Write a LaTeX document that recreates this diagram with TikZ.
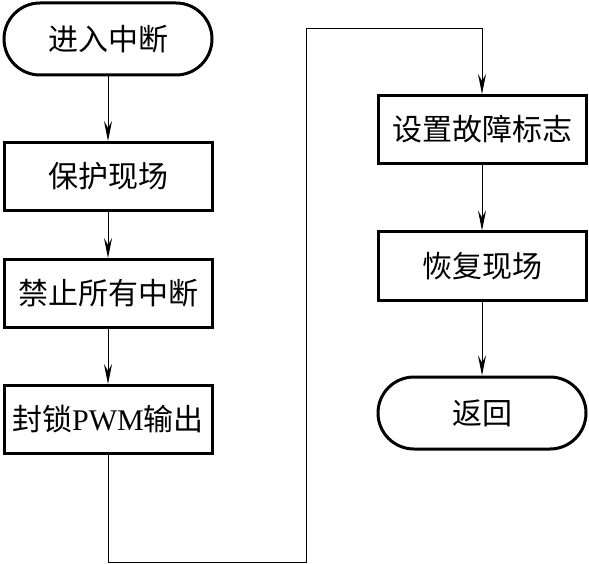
\documentclass[tikz,border=0pt]{standalone}
\usepackage{fontspec}
\setmainfont{Liberation Serif}
\newfontfamily\cjk{Noto Sans CJK SC}
\usetikzlibrary{shapes.misc,arrows.meta}

\begin{document}
\begin{tikzpicture}[x=1pt,y=-1pt,>={Stealth[length=20pt,width=8pt,inset=7pt]},
  box/.style={draw,line width=3pt,minimum width=208pt,minimum height=68pt,
    inner sep=0pt,font=\cjk\fontsize{30}{32}\selectfont},
  term/.style={box,rounded rectangle,minimum height=72pt},
  flow/.style={->,line width=1pt}]
\useasboundingbox (0,0) rectangle (589,564);
% left column
\node[term] (enter) at (108,39) {进入中断};
\node[box] (save) at (108,176.5) {保护现场};
\node[box] (mask) at (108,293.5) {禁止所有中断};
\node[box] (block) at (108,419.5) {封锁{\rmfamily PWM}输出};
% right column
\node[box] (fault) at (482,129.5) {设置故障标志};
\node[box] (restore) at (482,266) {恢复现场};
\node[term] (ret) at (482,413) {返回};
\coordinate (loopbot) at (306,562.5);
\coordinate (looptop) at (306,29);
% connectors
\draw[flow] (enter) -- (save);
\draw[flow] (save) -- (mask);
\draw[flow] (mask) -- (block);
\draw[flow] (block.south) |- (loopbot) -- (looptop) -| (fault.north);
\draw[flow] (fault) -- (restore);
\draw[flow] (restore) -- (ret);
\end{tikzpicture}
\end{document}
